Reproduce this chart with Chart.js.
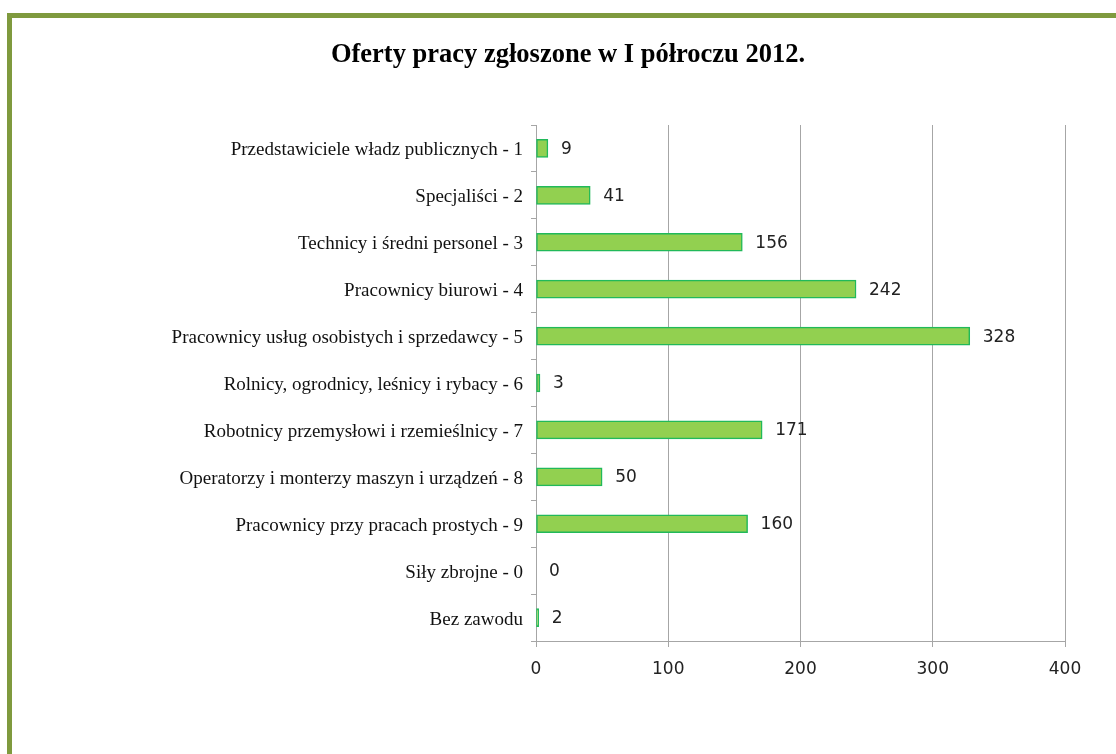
<!DOCTYPE html>
<html>
<head>
<meta charset="utf-8">
<script src="https://cdn.jsdelivr.net/npm/chart.js@4/dist/chart.umd.min.js"></script>
<style>
  html, body { margin: 0; padding: 0; background: #fff; overflow: hidden; }
  #frame {
    position: absolute; left: 7px; top: 13px; width: 1200px; height: 900px;
    border: 5px solid #7F9A3E; box-sizing: border-box;
  }
  #wrap { position: absolute; left: 0; top: 0; width: 1116px; height: 754px; }
</style>
</head>
<body>
<div id="frame"></div>
<div id="wrap"><canvas id="chart" width="1116" height="754"></canvas></div>
<script>
const title = 'Oferty pracy zgłoszone w I półroczu 2012.'
const categories = [
  'Przedstawiciele władz publicznych - 1',
  'Specjaliści - 2',
  'Technicy i średni personel - 3',
  'Pracownicy biurowi - 4',
  'Pracownicy usług osobistych i sprzedawcy - 5',
  'Rolnicy, ogrodnicy, leśnicy i rybacy - 6',
  'Robotnicy przemysłowi i rzemieślnicy - 7',
  'Operatorzy i monterzy maszyn i urządzeń - 8',
  'Pracownicy przy pracach prostych - 9',
  'Siły zbrojne - 0',
  'Bez zawodu'
]
const offers = [9, 41, 156, 242, 328, 3, 171, 50, 160, 0, 2]
const xTicks = [0, 100, 200, 300, 400]

const gridColor = '#A6A6A6'

// draws the number next to the end of each bar
const valueLabels = {
  id: 'valueLabels',
  afterDatasetsDraw (chart) {
    const ctx = chart.ctx
    const meta = chart.getDatasetMeta(0)
    ctx.save()
    ctx.font = '17px "DejaVu Sans"'
    ctx.fillStyle = '#222'
    ctx.textAlign = 'left'
    ctx.textBaseline = 'middle'
    meta.data.forEach((bar, i) => {
      ctx.fillText(String(offers[i]), bar.x + 13, bar.y + 1)
    })
    ctx.restore()
  }
}

const ctx = document.getElementById('chart').getContext('2d')
new Chart(ctx, {
  type: 'bar',
  data: {
    labels: categories,
    datasets: [{
      data: offers,
      backgroundColor: '#92D050',
      borderColor: '#21B95A',
      borderWidth: 1.5,
      borderSkipped: false,
      barThickness: 18
    }]
  },
  options: {
    indexAxis: 'y',
    responsive: false,
    animation: false,
    layout: { padding: { left: 71, right: 51, top: 39, bottom: 0 } },
    plugins: {
      legend: { display: false },
      tooltip: { enabled: false },
      title: {
        display: true,
        text: title,
        color: '#000',
        font: { family: '"Liberation Serif"', size: 26.5, weight: 'bold', lineHeight: 1.2 },
        padding: { top: 0, bottom: 54.2 }
      }
    },
    scales: {
      x: {
        min: 0,
        max: 400,
        afterFit: (scale) => { scale.height = 113 },
        afterBuildTicks: (scale) => { scale.ticks = xTicks.map(v => ({ value: v })) },
        grid: { color: gridColor, lineWidth: 1, tickLength: 6 },
        border: { color: gridColor },
        ticks: {
          color: '#222',
          padding: 12,
          font: { family: '"DejaVu Sans"', size: 17, weight: 'normal' }
        }
      },
      y: {
        afterFit: (scale) => { scale.width = 465 },
        grid: { drawOnChartArea: false, color: gridColor, tickLength: 5 },
        border: { color: gridColor },
        ticks: {
          color: '#111',
          padding: 8,
          labelOffset: 2,
          font: { family: '"Liberation Serif"', size: 19 }
        }
      }
    }
  },
  plugins: [valueLabels]
})
</script>
</body>
</html>
